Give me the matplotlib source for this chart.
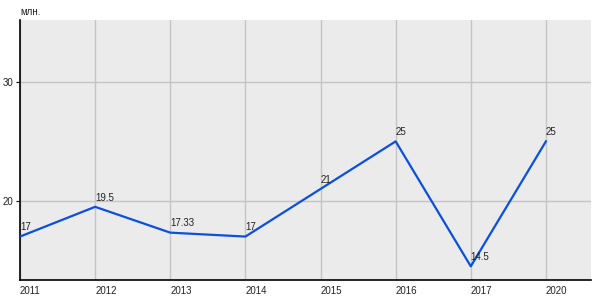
import numpy as np
import matplotlib
matplotlib.use('Agg')
from matplotlib import pyplot as plt

plt.rcParams['font.family'] = ['Liberation Sans', 'DejaVu Sans']

years = ['2011', '2012', '2013', '2014', '2015', '2016', '2017', '2020']
values = [17, 19.5, 17.33, 17, 21, 25, 14.5, 25]
labels = ['17', '19.5', '17.33', '17', '21', '25', '14.5', '25']
y_ticks = [20, 30]

fig = plt.figure(figsize=(6, 3), dpi=100)
ax = fig.add_axes([20 / 600, 20 / 300, 571 / 600, 260 / 300])
ax.set_facecolor('#ebebeb')

x = np.arange(len(years))
ax.plot(x, values, color='#0a4fe0', linewidth=1.6, zorder=3)

for xi, v, t in zip(x, values, labels):
    ax.annotate(t, (xi, v), xytext=(0, 3), textcoords='offset points',
                ha='left', va='bottom', fontsize=7, color='#222222', zorder=4)

ax.set_xlim(0, 7.6)
ax.set_ylim(13.35, 35.2)

ax.set_xticks(x)
ax.set_xticklabels(years, ha='left', fontsize=7, color='#222222')
ax.set_yticks(y_ticks)
ax.set_yticklabels([str(t) for t in y_ticks], fontsize=7, color='#222222')
ax.tick_params(axis='x', length=0, pad=4)
ax.tick_params(axis='y', length=3, width=0.8, pad=2)

ax.grid(True, color='#c4c4c4', linewidth=1)
ax.set_axisbelow(True)

for side in ['top', 'right']:
    ax.spines[side].set_visible(False)
ax.spines['left'].set_linewidth(1.2)
ax.spines['bottom'].set_linewidth(1.2)

fig.text(20 / 600, 1 - 12 / 300, 'млн.', fontsize=7, color='#222222',
         ha='left', va='center')

fig.savefig('out.png', dpi=100)
